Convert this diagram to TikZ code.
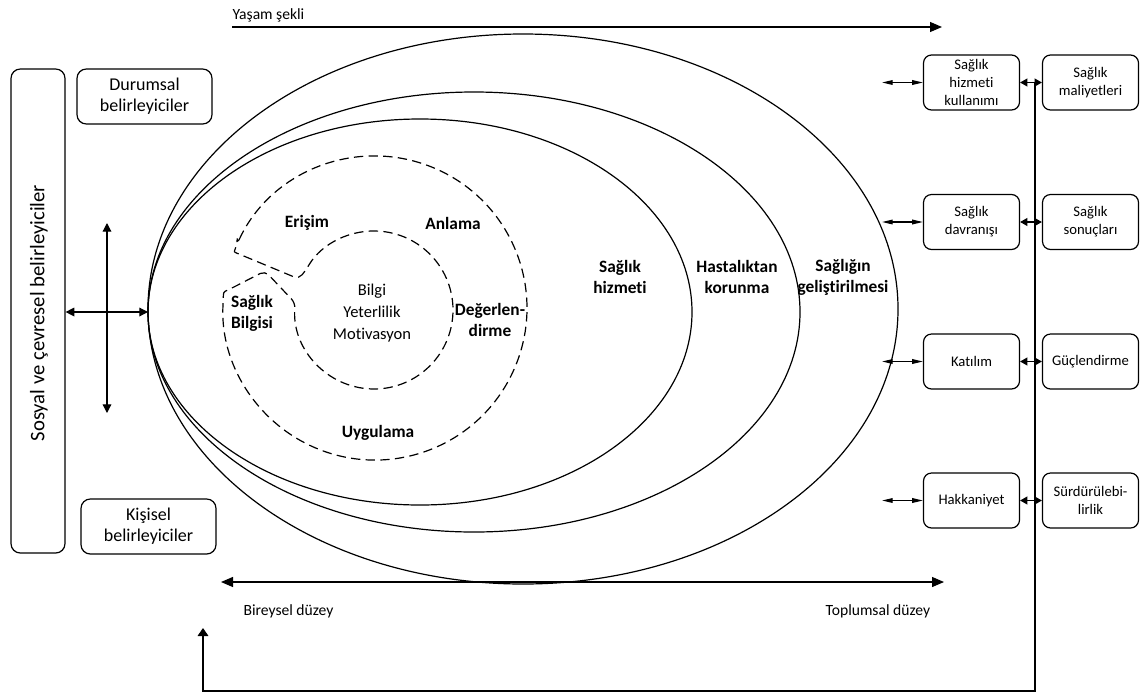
\documentclass[tikz,border=0pt]{standalone}
\usepackage{fontspec}
\setmainfont{Carlito}[Ligatures=NoCommon]
\usetikzlibrary{arrows.meta}
\begin{document}
\begin{tikzpicture}[x=0.75pt,y=-0.75pt,line width=0.9pt,
  every node/.style={inner sep=0pt,align=center},
  rbox/.style={draw,rounded corners=6pt,minimum width=72pt,minimum height=41.25pt,
    font=\fontsize{11}{13.5}\selectfont},
  lbox/.style={draw,rounded corners=7pt,minimum width=101.25pt,minimum height=41.25pt,
    font=\fontsize{13.5}{15.75}\selectfont},
  zone/.style={font=\bfseries\fontsize{13}{15.75}\selectfont},
  core/.style={font=\fontsize{12.4}{16.3}\selectfont},
  axislabel/.style={font=\fontsize{11.7}{14}\selectfont},
  bigtip/.tip={Triangle[length=9pt,width=7.5pt]},
  midtip/.tip={Triangle[length=5.5pt,width=6pt]},
  thintip/.tip={Triangle[length=8pt,width=3.5pt]},
  crosstip/.tip={Triangle[length=6.5pt,width=6.5pt]},
  dashline/.style={dash pattern=on 7pt off 4pt}
]
\useasboundingbox (0,0) rectangle (1144,693);

% lifestyle axis
\coordinate (ys) at (232,27);
\coordinate (ye) at (942,27);
\draw[-bigtip] (ys) -- (ye);
\node[axislabel,anchor=base west] (yasam) at (232,19) {Yaşam şekli};

% determinants on the left
\node[draw,rounded corners=7pt,minimum width=40.5pt,minimum height=363pt] (sed) at (38,311) {};
\node[rotate=90,font=\fontsize{15.5}{18}\selectfont] (sedtext) at (39,313) {Sosyal ve çevresel belirleyiciler};
\node[lbox] (dur) at (144.5,96.5) {Durumsal\\belirleyiciler};
\node[lbox] (kis) at (148.5,526.5) {Kişisel\\belirleyiciler};

% cross of arrows
\coordinate (vt) at (107,223);
\coordinate (vb) at (107,413);
\draw[crosstip-crosstip] (vt) -- (vb);
\coordinate (eleft) at (148,312);
\draw[crosstip-crosstip] (sed.east |- eleft) -- (eleft);

% nested domains
\draw (523,309) ellipse [x radius=375,y radius=275];
\draw (474,312) ellipse [x radius=326,y radius=220];
\draw (420,312) ellipse [x radius=272,y radius=193];

% health literacy ring with its notch
\draw[dashline,rounded corners=4pt]
  (237.2,243.8) arc[start angle=-155,end angle=182,radius=152]
  .. controls (223.5,292) .. (232,288)
  -- (265,271) -- (295.3,303.1)
  arc[start angle=185,end angle=-148.7,radius=79]
  -- (299,279) -- (242.3,255.4)
  .. controls (234,252) .. cycle;

\node[zone] (eri) at (307,223) {Erişim};
\node[zone] (anl) at (453,223) {Anlama};
\node[zone] (sbi) at (252,313) {Sağlık\\Bilgisi};
\node[zone] (deg) at (490,320) {Değerlen-\\dirme};
\node[zone] (uyg) at (378,433) {Uygulama};
\node[core] (byk) at (372,313) {Bilgi\\Yeterlilik\\Motivasyon};

\node[zone] (shz) at (620,277) {Sağlık\\hizmeti};
\node[zone] (hko) at (737,277) {Hastalıktan\\korunma};
\node[zone] (sge) at (843,277) {Sağlığın\\geliştirilmesi};

% outcome boxes
\node[rbox] (huk) at (971.5,82.5) {Sağlık\\hizmeti\\kullanımı};
\node[rbox] (sm) at (1090.5,82.5) {Sağlık\\maliyetleri};
\node[rbox] (sd) at (971.5,222) {Sağlık\\davranışı};
\node[rbox] (ss) at (1090.5,222) {Sağlık\\sonuçları};
\node[rbox] (kat) at (971.5,361.5) {Katılım};
\node[rbox] (gu) at (1090.5,361.5) {Güçlendirme};
\node[rbox] (hak) at (971.5,500.5) {Hakkaniyet};
\node[rbox] (sur) at (1090.5,500.5) {Sürdürülebi-\\lirlik};

\draw[midtip-midtip] (huk) -- (sm);
\draw[midtip-midtip] (sd) -- (ss);
\draw[midtip-midtip] (kat) -- (gu);
\draw[midtip-midtip] (hak) -- (sur);

\coordinate (o1) at (882,82.5);
\coordinate (o2) at (882,222);
\coordinate (o3) at (882,361.5);
\coordinate (o4) at (882,500.5);
\draw[thintip-thintip] (o1) -- (huk);
\draw[thintip-thintip] (o2) -- (sd);
\draw[thintip-thintip] (o3) -- (kat);
\draw[thintip-thintip] (o4) -- (hak);

% feedback loop
\coordinate (vtop) at (1035,82.5);
\coordinate (vbot) at (1035,691);
\coordinate (fbtip) at (203,628);
\draw[-{Triangle[length=6pt,width=8pt]}] (vtop) -- (vbot) -| (fbtip);

% individual to population axis
\coordinate (bl) at (221,582);
\coordinate (br) at (944,582);
\draw[bigtip-bigtip] (bl) -- (br);
\node[axislabel,anchor=base west] (bir) at (243,615) {Bireysel düzey};
\node[axislabel,anchor=base west] (top) at (825,615) {Toplumsal düzey};
\end{tikzpicture}
\end{document}
